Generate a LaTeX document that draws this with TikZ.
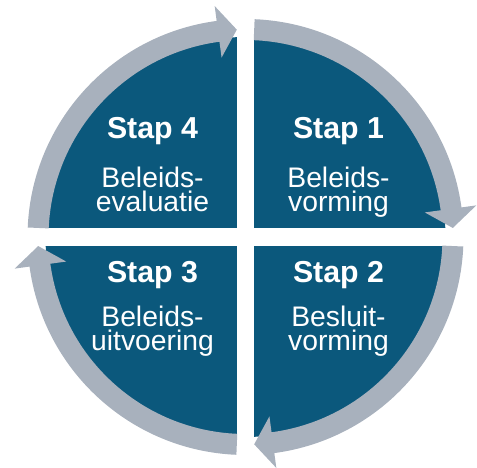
\documentclass[tikz,border=0pt]{standalone}
\usepackage{fontspec}
\setmainfont{Liberation Sans}
\definecolor{quadblue}{RGB}{11,88,124}
\definecolor{ringgray}{RGB}{168,177,189}
\newcommand{\ringarrow}[3]{%
  \fill[ringgray] (#1:197) arc[start angle=#1, end angle=#2, radius=197]
    -- (#2:181) -- (#3:207.5) -- (#2:233) -- (#2:218)
    arc[start angle=#2, end angle=#1, radius=218] -- cycle;}
\begin{document}
\begin{tikzpicture}[x=1pt,y=1pt,
  stapnum/.style={text=white, inner sep=0pt, anchor=base,
    font=\fontsize{30.3}{30.3}\selectfont\bfseries},
  stapname/.style={text=white, inner sep=0pt, anchor=base, align=center,
    font=\fontsize{28.3}{24}\selectfont}]
\useasboundingbox (-245.5,-231) rectangle (231.5,237);
% dark disk and white cross gaps
\fill[quadblue] (0,0) circle (200);
\fill[white] (-8.5,-240) rectangle (8.5,240);
\fill[white] (-250,-9) rectangle (250,9);
% ring arrows (clockwise)
\ringarrow{87.6}{7.8}{2.5}
\ringarrow{-2.5}{-82.4}{-87.6}
\ringarrow{-92.4}{-172.2}{-177.5}
\ringarrow{177.5}{97.6}{92.4}
% texts (name nodes anchored at the baseline of their last line)
\node[stapnum]  (s1) at (93,98)     {Stap 1};
\node[stapname] (n1) at (93,25.5)   {Beleids-\\vorming};
\node[stapnum]  (s4) at (-93,98)    {Stap 4};
\node[stapname] (n4) at (-93,25.5)  {Beleids-\\evaluatie};
\node[stapnum]  (s2) at (93,-45.5)  {Stap 2};
\node[stapname] (n2) at (93,-113.5) {Besluit-\\vorming};
\node[stapnum]  (s3) at (-93,-45.5) {Stap 3};
\node[stapname] (n3) at (-93,-113.5) {Beleids-\\uitvoering};
\end{tikzpicture}
\end{document}
